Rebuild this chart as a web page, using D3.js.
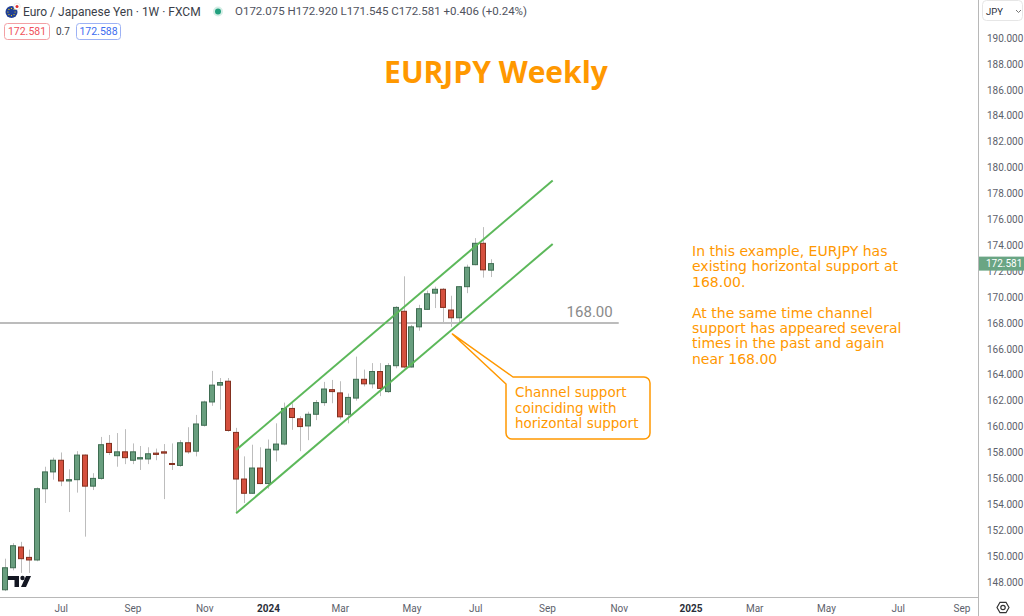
<!DOCTYPE html>
<html><head><meta charset="utf-8">
<script src="https://cdn.jsdelivr.net/npm/d3@7"></script>
<style>body{margin:0;background:#fff;} svg{display:block;}</style>
</head><body>
<svg id="chart" width="1024" height="616"></svg>
<script>
// ---------- DATA ----------
const startDate = "2023-05-15"; // first weekly bar (Monday)
const opens  = [147.4,149.1,150.7,149.9,149.7,155.2,156.5,157.4,155.8,155.9,157.8,155.4,156.0,158.7,157.75,158.05,157.4,157.5,157.5,157.95,158.05,157.15,157.0,158.75,158.1,160.1,161.9,163.2,163.5,159.55,155.95,154.85,156.8,155.6,158.2,158.65,161.4,160.6,160.05,160.95,161.85,162.85,162.6,160.95,162.2,163.65,163.3,164.25,162.7,164.7,168.9,164.6,167.7,169.05,170.3,170.6,169.0,168.4,170.8,172.5,174.15,172.075];
const highs  = [149.8,151.0,151.1,150.5,155.3,156.9,157.6,158.0,156.7,158.1,157.85,156.4,159.2,159.35,159.5,159.8,158.7,158.5,158.4,158.3,158.65,158.7,158.95,159.95,160.9,162.0,164.3,163.75,163.75,159.9,157.7,158.6,158.4,159.0,160.25,161.85,161.8,160.8,161.15,162.05,163.45,163.6,163.5,162.55,165.4,164.4,164.9,164.9,164.9,169.3,171.6,167.85,169.4,170.5,170.8,170.7,170.1,170.85,172.5,174.55,175.4,172.92];
const lows   = [147.3,148.9,148.7,148.7,149.6,154.1,155.9,155.4,153.4,154.9,151.5,155.1,155.9,157.8,156.9,157.1,157.1,156.65,157.1,157.4,154.4,156.65,156.9,157.9,157.7,160.0,161.6,161.3,159.6,153.3,154.1,154.8,155.55,155.2,157.3,158.55,159.75,158.1,158.95,160.5,161.6,161.8,160.55,160.25,162.0,163.1,162.95,162.35,162.6,164.5,164.5,164.55,167.4,169.0,169.15,168.0,167.7,168.0,170.3,172.45,171.5,171.545];
const closes = [149.1,150.8,149.8,149.7,155.2,156.5,157.4,155.8,155.9,157.8,155.4,156.0,158.6,158.0,158.05,157.6,158.05,157.6,157.9,157.85,157.95,157.1,158.75,158.05,160.2,161.9,163.2,163.4,159.7,155.95,154.85,156.8,155.6,158.25,158.65,161.4,160.7,160.0,160.95,161.85,162.9,162.7,160.75,162.25,163.65,163.3,164.25,162.95,164.7,169.2,164.6,167.7,169.1,170.25,170.6,169.2,168.4,170.8,172.3,174.15,172.1,172.581];

const yTicks = [148,150,152,154,156,158,160,162,164,166,168,170,172,174,176,178,180,182,184,186,188,190];
const xTickDates  = ["2023-07-03","2023-09-04","2023-11-06","2024-01-01","2024-03-04","2024-05-06","2024-07-01","2024-09-02","2024-11-04","2025-01-06","2025-03-03","2025-05-05","2025-07-07","2025-09-01"];
const xTickLabels = ["Jul","Sep","Nov","2024","Mar","May","Jul","Sep","Nov","2025","Mar","May","Jul","Sep"];

const supportLevel = 168.00;
const supportEnd = "2024-11-04";
const channelUpper = [["2023-12-04",158.2],["2024-09-07",179.0]];
const channelLower = [["2023-12-04",153.3],["2024-09-07",174.1]];
const calloutAnchor = ["2024-06-10",167.15];
const lastPrice = 172.581;

const titleText = "EURJPY Weekly";
const noteLines = ["In this example, EURJPY has","existing horizontal support at","168.00.","","At the same time channel","support has appeared several","times in the past and again","near 168.00"];
const calloutLines = ["Channel support","coinciding with","horizontal support"];
const headerTitle = "Euro / Japanese Yen \u00b7 1W \u00b7 FXCM";
const headerOHLC = "O172.075 H172.920 L171.545 C172.581 +0.406 (+0.24%)";
const bidPrice = "172.581", spreadText = "0.7", askPrice = "172.588";

// ---------- SETUP ----------
const parse = d3.utcParse("%Y-%m-%d");
const svg = d3.select("#chart");
const W = 1024, H = 616, plotR = 978, plotB = 597.5;
const x = d3.scaleUtc().domain([parse("2023-05-15"), parse("2024-07-15")]).range([5, 491.2]);
const y = d3.scaleLinear().domain([148, 190]).range([582, 38]);

const data = opens.map((o, i) => ({
  date: d3.utcWeek.offset(parse(startDate), i), o, h: highs[i], l: lows[i], c: closes[i]
}));

const GREEN = "#689e7e", GREEN_B = "#3f6d52", RED = "#d5503e", RED_B = "#83301f";
const ORANGE = "#ff9800";

svg.append("rect").attr("width", W).attr("height", H).attr("fill", "#fff");

svg.append("defs").append("clipPath").attr("id", "plot")
  .append("rect").attr("x", 0).attr("y", 0).attr("width", plotR).attr("height", plotB);

const plot = svg.append("g").attr("clip-path", "url(#plot)");

// horizontal support
plot.append("line")
  .attr("x1", 0).attr("x2", x(parse(supportEnd)))
  .attr("y1", y(supportLevel)).attr("y2", y(supportLevel))
  .attr("stroke", "#a6a6a6").attr("stroke-width", 1.6);
plot.append("text")
  .attr("x", x(parse(supportEnd)) - 6).attr("y", y(supportLevel) - 6)
  .attr("text-anchor", "end")
  .attr("font-family", "Roboto, sans-serif").attr("font-size", 15)
  .attr("fill", "#8a8a8a").text(supportLevel.toFixed(2));

// candles
const cg = plot.append("g");
cg.selectAll("line.wick").data(data).join("line")
  .attr("class", "wick")
  .attr("x1", d => Math.round(x(d.date)) + 0.5).attr("x2", d => Math.round(x(d.date)) + 0.5)
  .attr("y1", d => y(d.h)).attr("y2", d => y(d.l))
  .attr("stroke", "#bdbdbd").attr("stroke-width", 1);
cg.selectAll("rect.body").data(data).join("rect")
  .attr("class", "body")
  .attr("x", d => Math.round(x(d.date)) - 2.5).attr("width", 5)
  .attr("y", d => y(Math.max(d.o, d.c)))
  .attr("height", d => Math.max(1, Math.abs(y(d.o) - y(d.c))))
  .attr("fill", d => d.c >= d.o ? GREEN : RED)
  .attr("stroke", d => d.c >= d.o ? GREEN_B : RED_B).attr("stroke-width", 1);

// channel lines
const lineGen = d3.line().x(d => x(parse(d[0]))).y(d => y(d[1]));
[channelUpper, channelLower].forEach(ch => {
  plot.append("path").attr("d", lineGen(ch))
    .attr("fill", "none").attr("stroke", "#5cb85a").attr("stroke-width", 2);
});

// callout
const ax = x(parse(calloutAnchor[0])) + 1, ay = y(calloutAnchor[1]);
const L = 506, T = 377, R = 650, B = 439, r = 6;
const cp = `M513,${T} H${R - r} A${r},${r} 0 0 1 ${R},${T + r} V${B - r} A${r},${r} 0 0 1 ${R - r},${B} H${L + r} A${r},${r} 0 0 1 ${L},${B - r} V384 L${ax},${ay} Z`;
svg.append("path").attr("d", cp).attr("fill", "#fff").attr("stroke", ORANGE).attr("stroke-width", 1.5).attr("stroke-linejoin", "round");
const ct = svg.append("text").attr("font-family", "DejaVu Sans, sans-serif").attr("font-size", 13.5).attr("fill", ORANGE);
calloutLines.forEach((t, i) => ct.append("tspan").attr("x", 515).attr("y", 397 + i * 15.7).text(t));

// note text
const nt = svg.append("text").attr("font-family", "DejaVu Sans, sans-serif").attr("font-size", 14).attr("fill", ORANGE);
noteLines.forEach((t, i) => { if (t) nt.append("tspan").attr("x", 692).attr("y", 256 + i * 15.4).text(t); });

// title
svg.append("text").attr("x", 496).attr("y", 83).attr("text-anchor", "middle")
  .attr("font-family", "Open Sans, sans-serif").attr("font-weight", 700).attr("font-size", 30)
  .attr("fill", ORANGE).text(titleText);

// axes frame
svg.append("line").attr("x1", plotR + 0.5).attr("x2", plotR + 0.5).attr("y1", 0).attr("y2", H).attr("stroke", "#b8b8b8");
svg.append("line").attr("x1", 0).attr("x2", plotR).attr("y1", plotB).attr("y2", plotB).attr("stroke", "#b8b8b8");

// y axis
const yAxis = svg.append("g").attr("transform", `translate(${plotR},0)`)
  .call(d3.axisRight(y).tickValues(yTicks).tickFormat(d3.format(".3f")).tickSize(0).tickPadding(9));
yAxis.select(".domain").remove();
yAxis.selectAll("text").attr("font-family", "Roboto, sans-serif").attr("font-size", 10).attr("fill", "#5d616b");

// x axis
const xAxis = svg.append("g").attr("transform", `translate(0,${plotB})`)
  .call(d3.axisBottom(x).tickValues(xTickDates.map(parse)).tickFormat((d, i) => xTickLabels[i]).tickSize(0).tickPadding(7));
xAxis.select(".domain").remove();
xAxis.selectAll("text").attr("font-family", "Roboto, sans-serif").attr("font-size", 10)
  .attr("fill", (d, i) => /^\d{4}$/.test(xTickLabels[i]) ? "#2a2e39" : "#5d616b")
  .attr("font-weight", (d, i) => /^\d{4}$/.test(xTickLabels[i]) ? 700 : 400);

// last price label
svg.append("rect").attr("x", plotR + 1).attr("y", y(lastPrice) - 7).attr("width", W - plotR - 1).attr("height", 14).attr("fill", "#6aa584");
svg.append("text").attr("x", 986).attr("y", y(lastPrice) + 3.6)
  .attr("font-family", "Roboto, sans-serif").attr("font-size", 10).attr("fill", "#fff").text(lastPrice.toFixed(3));

// JPY box
svg.append("rect").attr("x", 982.5).attr("y", 0.5).attr("width", 40).attr("height", 20).attr("rx", 4)
  .attr("fill", "#fff").attr("stroke", "#e6e6e6");
svg.append("text").attr("x", 986).attr("y", 14.5).attr("font-family", "Roboto, sans-serif").attr("font-size", 9.5).attr("fill", "#2a2e39").text("JPY");
svg.append("path").attr("d", "M1016,10 l2.5,2.5 l2.5,-2.5").attr("fill", "none").attr("stroke", "#777").attr("stroke-width", 1);

// gear icon
const hex = d3.range(6).map(k => { const a = Math.PI / 3 * k; return [1003 + 6 * Math.cos(a), 607.5 + 6 * Math.sin(a)]; });
svg.append("path").attr("d", "M" + hex.join("L") + "Z").attr("fill", "none").attr("stroke", "#333").attr("stroke-width", 1.2);
svg.append("circle").attr("cx", 1003).attr("cy", 607.5).attr("r", 2.2).attr("fill", "none").attr("stroke", "#333").attr("stroke-width", 1.2);

// TV logo
const logo = svg.append("g").attr("fill", "#131722");
logo.append("path").attr("d", "M8,576 H19 V587 H14.5 V580 H8 Z");
logo.append("circle").attr("cx", 22.5).attr("cy", 578).attr("r", 2.2);
logo.append("path").attr("d", "M26,576 H31 L26,587 H21 Z");

// header
svg.append("circle").attr("cx", 11.5).attr("cy", 12).attr("r", 6).attr("fill", "#1f3f96");
d3.range(8).forEach(k => {
  const a = Math.PI / 4 * k;
  svg.append("circle").attr("cx", 11.5 + 3.6 * Math.cos(a)).attr("cy", 12 + 3.6 * Math.sin(a)).attr("r", 0.6).attr("fill", "#ffd200");
});
svg.append("circle").attr("cx", 17).attr("cy", 6.5).attr("r", 3.3).attr("fill", "#fff").attr("stroke", "#ddd").attr("stroke-width", 0.5);
svg.append("circle").attr("cx", 17).attr("cy", 6.5).attr("r", 1.5).attr("fill", "#e03030");
svg.append("text").attr("x", 23).attr("y", 15.5).attr("font-family", "Roboto, sans-serif").attr("font-size", 12).attr("fill", "#3a3e48").text(headerTitle);
svg.append("circle").attr("cx", 218).attr("cy", 11.5).attr("r", 5).attr("fill", "#d5eee6");
svg.append("circle").attr("cx", 218).attr("cy", 11.5).attr("r", 3).attr("fill", "#22a07e");
svg.append("text").attr("x", 235).attr("y", 15).attr("font-family", "Roboto, sans-serif").attr("font-size", 11.5).attr("fill", "#50535e").text(headerOHLC);

svg.append("rect").attr("x", 4.5).attr("y", 23.5).attr("width", 45).attr("height", 16).attr("rx", 3).attr("fill", "#fff").attr("stroke", "#f3a0a4");
svg.append("text").attr("x", 27).attr("y", 35).attr("text-anchor", "middle").attr("font-family", "Roboto, sans-serif").attr("font-size", 10.5).attr("fill", "#f0515a").text(bidPrice);
svg.append("text").attr("x", 56).attr("y", 35).attr("font-family", "Roboto, sans-serif").attr("font-size", 10).attr("fill", "#3a3e48").text(spreadText);
svg.append("rect").attr("x", 76.5).attr("y", 23.5).attr("width", 44).attr("height", 16).attr("rx", 3).attr("fill", "#fff").attr("stroke", "#9db2f5");
svg.append("text").attr("x", 98.5).attr("y", 35).attr("text-anchor", "middle").attr("font-family", "Roboto, sans-serif").attr("font-size", 10.5).attr("fill", "#3b6cf0").text(askPrice);
</script>
</body></html>
